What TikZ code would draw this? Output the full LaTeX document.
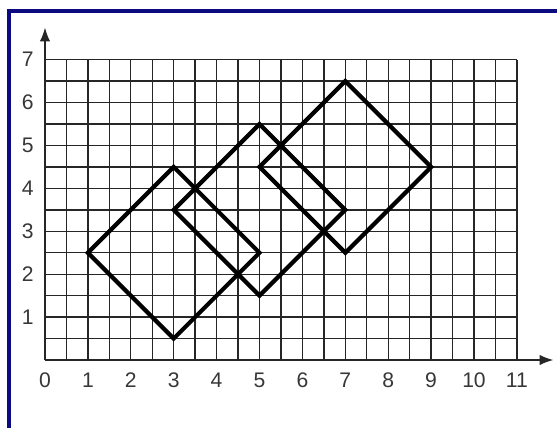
\documentclass[tikz,border=0pt]{standalone}
\usepackage{fontspec}
\setmainfont{Liberation Sans}
\usetikzlibrary{arrows.meta}
\definecolor{framenavy}{RGB}{12,10,128}
\definecolor{labelgray}{RGB}{55,55,55}
\tikzset{gridline/.style={draw=black!85, line width=0.9pt},
         axisline/.style={draw=black!85, line width=0.9pt, -{Latex[length=3.2mm,width=2.4mm]}},
         ticklabel/.style={text=labelgray, font=\fontsize{14}{16}\selectfont, inner sep=0pt},
         squareline/.style={draw=black, line width=2.8pt, line join=miter}}

\begin{document}
\begin{tikzpicture}
        \useasboundingbox (-1.049,-1.562) rectangle (11.935,8.392);

        % Frame
        \draw[framenavy, line width=2.6pt] (-0.839,-1.8) -- (-0.839,8.135) -- (12.2,8.135);

        % Grid and axes
        \draw[gridline] (0,0) grid[step=0.5] (11,7);
        \coordinate (o) at (0,0);
        \coordinate (xend) at (11.85,0);
        \coordinate (yend) at (0,7.75);
        \draw[axisline] (o) -- (xend);
        \draw[axisline] (o) -- (yend);

        % Labels
        \foreach \x in {0,...,11}
            \node[ticklabel] (x\x) at (\x,-0.47) {\x};
        \foreach \y in {1,...,7}
            \node[ticklabel] (y\y) at (-0.4,\y) {\y};

        % Squares
        \foreach \cx/\cy [count=\i] in {3/2.5, 5/3.5, 7/4.5}
            \draw[squareline] (\cx-2,\cy) -- (\cx,\cy+2) -- (\cx+2,\cy) -- (\cx,\cy-2) -- cycle;

\end{tikzpicture}
\end{document}
